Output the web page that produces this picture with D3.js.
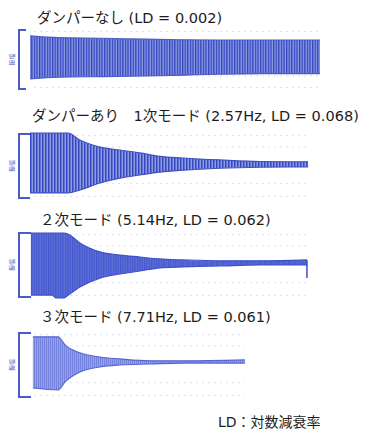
<!DOCTYPE html>
<html>
<head>
<meta charset="utf-8">
<script src="https://cdn.jsdelivr.net/npm/d3@7"></script>
<style>
  body { margin: 0; background: #fff; }
  svg { display: block; }
</style>
</head>
<body>
<div id="chart"></div>
<script>
// titles and note
const panelTitles = [
  "ダンパーなし (LD = 0.002)",
  "ダンパーあり　1次モード (2.57Hz, LD = 0.068)",
  "２次モード (5.14Hz, LD = 0.062)",
  "３次モード (7.71Hz, LD = 0.061)"
];
const noteText = "LD：対数減衰率";
const ampLabel = "振幅";

// envelopes (time in chart units, amplitude relative to scale bar = 1)
const noDamperTime  = [0, 10, 25, 40, 53, 65, 80, 100];
const noDamperUpper = [0.80, 0.74, 0.72, 0.69, 0.67, 0.66, 0.66, 0.66];
const noDamperLower = [-0.66, -0.60, -0.58, -0.56, -0.53, -0.50, -0.48, -0.48];

const mode1Time  = [0, 13.1, 17.2, 24.1, 31.0, 37.9, 44.8, 52.8, 65.5, 79.3, 95.9];
const mode1Upper = [1.03, 1.03, 0.81, 0.59, 0.50, 0.41, 0.30, 0.25, 0.19, 0.14, 0.13];
const mode1Lower = [-0.84, -0.84, -0.75, -0.53, -0.38, -0.28, -0.19, -0.13, -0.07, -0.04, -0.03];

const mode2Time  = [0.3, 7.6, 9.0, 11.7, 13.1, 17.2, 24.1, 31.0, 37.9, 44.8, 52.8, 65.5, 79.3, 95.5];
const mode2Upper = [1.0, 1.0, 1.0, 1.0, 0.97, 0.69, 0.41, 0.31, 0.25, 0.19, 0.16, 0.13, 0.13, 0.16];
const mode2Lower = [-0.94, -0.94, -1.03, -1.03, -0.95, -0.69, -0.41, -0.28, -0.19, -0.09, -0.06, -0.03, 0, 0];
const mode2PenMark = [95.5, -0.41];

const mode3Time  = [1.0, 9.7, 12.1, 17.2, 24.1, 31.0, 41.4, 52.8, 74.1];
const mode3Upper = [0.88, 0.88, 0.63, 0.38, 0.25, 0.19, 0.13, 0.13, 0.16];
const mode3Lower = [-0.72, -0.78, -0.53, -0.22, -0.06, 0, 0.03, 0.06, 0.06];

const gridLevels = [-0.95, -0.55, 0.6, 0.95];

const W = 366, H = 433;
const svg = d3.select("#chart").append("svg")
  .attr("width", W).attr("height", H)
  .attr("viewBox", `0 0 ${W} ${H}`);

const font = "'DejaVu Sans', 'Noto Sans CJK JP', sans-serif";
const x = d3.scaleLinear().domain([0, 100]).range([30, 320]);

const panels = [
  { time: noDamperTime, up: noDamperUpper, lo: noDamperLower, top: 30, bottom: 89, tick: 26,
    titleX: 37, titleY: 23, bg: "#8c9ae2", line: "#3345bf", step: 2.6, edge: "#4a5bc8" },
  { time: mode1Time, up: mode1Upper, lo: mode1Lower, top: 134, bottom: 198, tick: 30,
    titleX: 32, titleY: 121, bg: "#8d9be2", line: "#3648c1", step: 3, edge: "#3e50c5" },
  { time: mode2Time, up: mode2Upper, lo: mode2Lower, top: 233, bottom: 297, tick: 31,
    titleX: 40, titleY: 225, bg: "#5e71da", line: "#4356cc", step: 2.4, edge: "#3d50c7" },
  { time: mode3Time, up: mode3Upper, lo: mode3Lower, top: 333, bottom: 397, tick: 31,
    titleX: 40, titleY: 322, bg: "#97a3e7", line: "#7482dd", step: 2, edge: "#5566d0" }
];

const defs = svg.append("defs");
panels.forEach((p, i) => {
  const pat = defs.append("pattern")
    .attr("id", "wave" + i)
    .attr("patternUnits", "userSpaceOnUse")
    .attr("width", p.step).attr("height", 4);
  pat.append("rect").attr("width", p.step).attr("height", 4).attr("fill", p.bg);
  pat.append("rect").attr("width", p.step * 0.5).attr("height", 4).attr("fill", p.line);
});

panels.forEach((p, i) => {
  const y = d3.scaleLinear().domain([-1, 1]).range([p.bottom, p.top]);
  const data = p.time.map((t, k) => ({ t: t, hi: p.up[k], lo: p.lo[k] }));
  const g = svg.append("g");

  // faint chart paper lines
  g.selectAll("line.grid").data(gridLevels).enter().append("line")
    .attr("class", "grid")
    .attr("x1", x(0) + 4).attr("x2", x(d3.max(p.time)))
    .attr("y1", d => y(d)).attr("y2", d => y(d))
    .attr("stroke", "#d3d8f1").attr("stroke-width", 0.8)
    .attr("stroke-dasharray", "2,4");

  // amplitude scale bar
  g.append("path")
    .attr("d", `M${p.tick},${p.top} H19 V${p.bottom} H${p.tick}`)
    .attr("fill", "none").attr("stroke", "#4b5bc8").attr("stroke-width", 2);

  g.append("text")
    .attr("transform", `translate(14,${(p.top + p.bottom) / 2}) rotate(-90)`)
    .attr("text-anchor", "middle")
    .attr("font-family", font).attr("font-size", 6)
    .attr("fill", "#5565cc")
    .text(ampLabel);

  // recorded oscillation
  const area = d3.area()
    .x(d => x(d.t)).y0(d => y(d.lo)).y1(d => y(d.hi))
    .curve(d3.curveMonotoneX);
  g.append("path").datum(data)
    .attr("d", area)
    .attr("fill", `url(#wave${i})`);

  ["hi", "lo"].forEach(k => {
    g.append("path").datum(data)
      .attr("d", d3.line().x(d => x(d.t)).y(d => y(d[k])).curve(d3.curveMonotoneX))
      .attr("fill", "none").attr("stroke", p.edge).attr("stroke-width", 1.1);
  });

  // title
  svg.append("text")
    .attr("x", p.titleX).attr("y", p.titleY)
    .attr("font-family", font).attr("font-size", 14.5)
    .attr("fill", "#1c1c1c")
    .text(panelTitles[i]);
});

// pen mark at the end of the 2nd mode record
{
  const p = panels[2];
  const y = d3.scaleLinear().domain([-1, 1]).range([p.bottom, p.top]);
  svg.append("line")
    .attr("x1", x(mode2PenMark[0])).attr("x2", x(mode2PenMark[0]))
    .attr("y1", y(mode2Upper[mode2Upper.length - 1])).attr("y2", y(mode2PenMark[1]))
    .attr("stroke", "#3a4dc6").attr("stroke-width", 1.5);
}

svg.append("text")
  .attr("x", 218).attr("y", 427)
  .attr("font-family", font).attr("font-size", 14)
  .attr("fill", "#1c1c1c")
  .text(noteText);
</script>
</body>
</html>
